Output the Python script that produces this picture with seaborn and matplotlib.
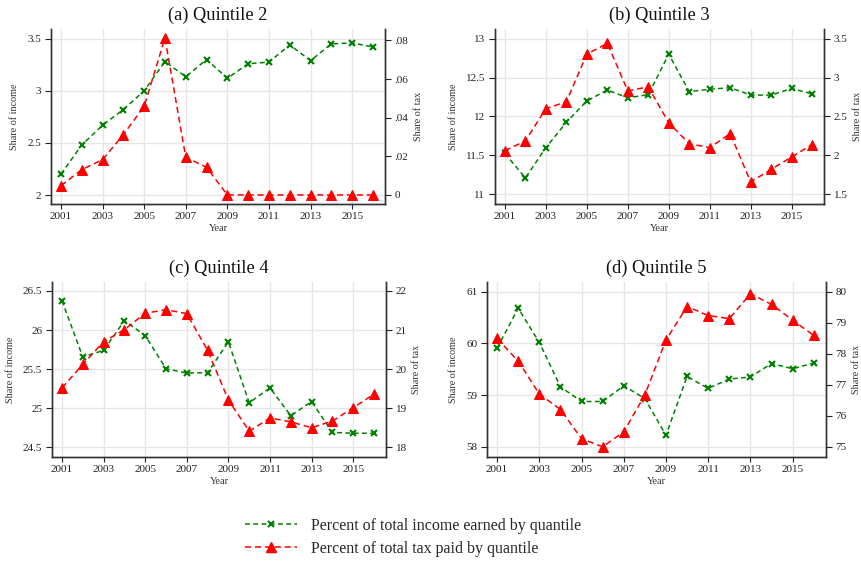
import numpy as np
import pandas as pd
import seaborn as sns
import matplotlib
matplotlib.use("Agg")
import matplotlib.pyplot as plt
from matplotlib.lines import Line2D
from matplotlib.ticker import FuncFormatter

years = list(range(2001, 2017))

# Share of total income earned, by quintile (percent)
income_q2 = [2.20, 2.48, 2.67, 2.82, 3.00, 3.28, 3.135, 3.30, 3.12, 3.26, 3.275, 3.44, 3.29, 3.45, 3.46, 3.42]
income_q3 = [11.525, 11.21, 11.60, 11.925, 12.20, 12.34, 12.24, 12.28, 12.80, 12.32, 12.35, 12.37, 12.275, 12.275, 12.36, 12.29]
income_q4 = [26.376, 25.656, 25.74, 26.12, 25.93, 25.506, 25.45, 25.455, 25.85, 25.07, 25.26, 24.905, 25.085, 24.69, 24.68, 24.68]
income_q5 = [59.91, 60.68, 60.02, 59.16, 58.875, 58.875, 59.18, 58.93, 58.22, 59.36, 59.13, 59.31, 59.35, 59.61, 59.51, 59.62]

# Share of total tax paid, by quintile (percent)
tax_q2 = [0.0048, 0.0131, 0.0183, 0.0312, 0.0459, 0.0812, 0.0195, 0.0143, 0.0, 0.0, 0.0, 0.0, 0.0, 0.0, 0.0, 0.0]
tax_q3 = [2.06, 2.187, 2.60, 2.69, 3.30, 3.44, 2.83, 2.88, 2.42, 2.15, 2.10, 2.28, 1.66, 1.82, 1.98, 2.14]
tax_q4 = [19.52, 20.12, 20.70, 21.01, 21.43, 21.52, 21.42, 20.48, 19.21, 18.41, 18.75, 18.65, 18.50, 18.67, 19.01, 19.36]
tax_q5 = [78.49, 77.76, 76.70, 76.20, 75.26, 75.0, 75.48, 76.67, 78.44, 79.52, 79.23, 79.13, 79.93, 79.59, 79.08, 78.59]

titles = ["(a) Quintile 2", "(b) Quintile 3", "(c) Quintile 4", "(d) Quintile 5"]
legend_labels = ["Percent of total income earned by quantile", "Percent of total tax paid by quantile"]

panels = [
    dict(income=income_q2, tax=tax_q2, rect=[0.0592, 0.6377, 0.388, 0.3108],
         ylim=(1.914, 3.593), yticks=[2, 2.5, 3, 3.5],
         ylim2=(-0.00466, 0.0859), yticks2=[0, 0.02, 0.04, 0.06, 0.08]),
    dict(income=income_q3, tax=tax_q3, rect=[0.575, 0.6377, 0.382, 0.3108],
         ylim=(10.876, 13.124), yticks=[11, 11.5, 12, 12.5, 13],
         ylim2=(1.376, 3.624), yticks2=[1.5, 2, 2.5, 3, 3.5]),
    dict(income=income_q4, tax=tax_q4, rect=[0.0604, 0.1883, 0.388, 0.3108],
         ylim=(24.376, 26.615), yticks=[24.5, 25, 25.5, 26, 26.5],
         ylim2=(17.75, 22.23), yticks2=[18, 19, 20, 21, 22]),
    dict(income=income_q5, tax=tax_q5, rect=[0.5656, 0.1883, 0.3937, 0.3108],
         ylim=(57.80, 61.19), yticks=[58, 59, 60, 61],
         ylim2=(74.67, 80.31), yticks2=[75, 76, 77, 78, 79, 80]),
]

sns.set_theme(style="white")
plt.rcParams["font.family"] = ["Liberation Serif", "DejaVu Serif"]
plt.rcParams["axes.unicode_minus"] = False

GREEN = "#008000"
RED = "#ff0000"
SPINE = "#333333"
GREEN_DASH = (0, (3.2, 2.2))
RED_DASH = (0, (4, 2.5))
TRI_SIZE = 7.5


def fmt(v, _pos=None):
    s = f"{v:g}"
    if s.startswith("0.") and len(s) > 2:
        s = s[1:]
    return s


fig = plt.figure(figsize=(8.61, 5.63), dpi=100)

for title, p in zip(titles, panels):
    df = pd.DataFrame({"Year": years, "Income": p["income"], "Tax": p["tax"]})
    ax = fig.add_axes(p["rect"])
    ax2 = ax.twinx()

    ax.set_xlim(2000.52, 2016.58)
    ax.set_ylim(*p["ylim"])
    ax2.set_ylim(*p["ylim2"])
    ax.set_yticks(p["yticks"])
    ax2.set_yticks(p["yticks2"])
    ax.set_xticks(list(range(2001, 2016, 2)))
    ax.yaxis.set_major_formatter(FuncFormatter(fmt))
    ax2.yaxis.set_major_formatter(FuncFormatter(fmt))

    ax.grid(True, color="#e6e6e6", linewidth=1.0)
    ax.set_axisbelow(True)

    sns.lineplot(data=df, x="Year", y="Income", ax=ax, color=GREEN,
                 linestyle=GREEN_DASH, linewidth=1.1, marker="x",
                 markersize=4.5, markeredgewidth=1.5, markeredgecolor=GREEN, zorder=3)
    sns.lineplot(data=df, x="Year", y="Tax", ax=ax2, color=RED,
                 linestyle=RED_DASH, linewidth=1.1, marker="^",
                 markersize=TRI_SIZE, markeredgecolor=RED, zorder=3)

    for a in (ax, ax2):
        a.spines["top"].set_visible(False)
        for s in ("left", "right", "bottom"):
            a.spines[s].set_color(SPINE)
            a.spines[s].set_linewidth(1.0)
        a.tick_params(axis="y", labelsize=8, colors="#222222", length=4.5, width=0.8, pad=2.5)
        a.set_xlabel("")
    ax.tick_params(axis="x", labelsize=8, colors="#222222", length=3.5, width=0.8, pad=2,
                   bottom=True)
    ax.tick_params(axis="y", left=True)
    ax2.tick_params(axis="y", right=True)

    ax.set_xlabel("Year", fontsize=7.5, color="#333333", labelpad=2.5)
    ax.set_ylabel("Share of income", fontsize=7.3, color="#333333", labelpad=6)
    ax2.set_ylabel("Share of tax", fontsize=7.3, color="#333333", labelpad=4)
    ax.set_title(title, fontsize=13.2, color="#111111", pad=6.5)

handles = [
    Line2D([0], [0], color=GREEN, linestyle=GREEN_DASH, linewidth=1.1, marker="x",
           markersize=4.5, markeredgewidth=1.5),
    Line2D([0], [0], color=RED, linestyle=RED_DASH, linewidth=1.1, marker="^",
           markersize=TRI_SIZE),
]
fig.legend(handles, legend_labels, loc="center", bbox_to_anchor=(0.48, 0.046),
           frameon=False, fontsize=11.5, handlelength=3.2, labelspacing=0.45,
           handletextpad=0.9)

fig.savefig("out.png", dpi=100)
